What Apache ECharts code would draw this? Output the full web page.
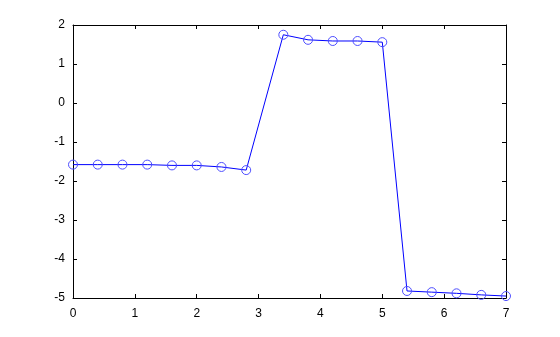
<!DOCTYPE html>
<html>
<head>
<meta charset="utf-8">
<script src="https://cdn.jsdelivr.net/npm/echarts@6/dist/echarts.min.js"></script>
<style>html,body{margin:0;padding:0;background:#fff;}#c{width:560px;height:337px;}</style>
</head>
<body>
<div id="c"></div>
<script>
var xValues = [0, 0.4, 0.8, 1.2, 1.6, 2.0, 2.4, 2.8, 3.4, 3.8, 4.2, 4.6, 5.0, 5.4, 5.8, 6.2, 6.6, 7.0];
var yValues = [-1.58, -1.58, -1.58, -1.58, -1.60, -1.60, -1.64, -1.72, 1.75, 1.62, 1.59, 1.59, 1.56, -4.82, -4.85, -4.88, -4.92, -4.95];

var points = xValues.map(function (x, i) { return [x, yValues[i]]; });
var font = { color: '#000', fontSize: 12, fontFamily: 'Liberation Sans, Arial, sans-serif' };
function axisBase(pos, show, margin) {
  return {
    type: 'value', position: pos,
    axisLine: { show: true, onZero: false, lineStyle: { color: '#000', width: 1 } },
    axisTick: { show: true, inside: true, length: 4, lineStyle: { color: '#000' } },
    splitLine: { show: false },
    axisLabel: Object.assign({ show: show, margin: margin }, font)
  };
}
var chart = echarts.init(document.getElementById('c'));
chart.setOption({
  animation: false,
  grid: { left: 73, right: 54, top: 25, bottom: 39 },
  xAxis: [
    Object.assign(axisBase('bottom', true, 10), { min: 0, max: 7, interval: 1 }),
    Object.assign(axisBase('top', false, 8), { min: 0, max: 7, interval: 1 })
  ],
  yAxis: [
    Object.assign(axisBase('left', true, 8), { min: -5, max: 2, interval: 1 }),
    Object.assign(axisBase('right', false, 8), { min: -5, max: 2, interval: 1 })
  ],
  series: [{
    type: 'line',
    data: points,
    symbol: 'circle',
    symbolSize: 9,
    showAllSymbol: true,
    itemStyle: { color: 'rgba(0,0,0,0)', borderColor: '#4d4dff', borderWidth: 1 },
    lineStyle: { color: '#0000ff', width: 1 },
    clip: false
  }]
});
</script>
</body>
</html>
